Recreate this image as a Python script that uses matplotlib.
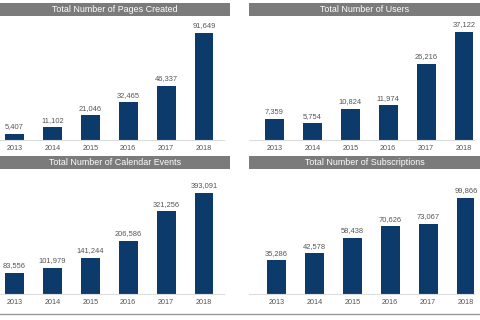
import matplotlib
matplotlib.use("Agg")
import matplotlib.pyplot as plt
from matplotlib.patches import Rectangle
from matplotlib.lines import Line2D

years = ["2013", "2014", "2015", "2016", "2017", "2018"]
pages_created = [5407, 11102, 21046, 32465, 46337, 91649]
users = [7359, 5754, 10824, 11974, 26216, 37122]
calendar_events = [83556, 101979, 141244, 206586, 321256, 393091]
subscriptions = [35286, 42578, 58438, 70626, 73067, 99866]

titles = ["Total Number of Pages Created", "Total Number of Users",
          "Total Number of Calendar Events", "Total Number of Subscriptions"]
series = [pages_created, users, calendar_events, subscriptions]

W, H = 480, 320
fig = plt.figure(figsize=(4.8, 3.2), dpi=100)
fig.patch.set_facecolor("white")

BAR = "#0c3a6b"
TITLE_BG = "#7b7b7b"
TXT = "#555555"
FONT = "Liberation Sans"

# panel layout in pixels: (title x0, x1, title y0, y1, baseline y, first center px, ymax)
panels = [
    (0, 230, 3, 16, 140, 14.5, 102800),
    (249, 480, 3, 16, 140, 274.5, 41250),
    (0, 230, 156, 169, 294, 14.5, 467000),
    (249, 480, 156, 169, 294, 276.5, 124800),
]
spacing = 37.9

def fx(px):
    return px / W

def fy(py):
    return 1 - py / H

for (x0, x1, ty0, ty1, base, c0, ymax), title, vals in zip(panels, titles, series):
    # title bar
    fig.patches.append(Rectangle((fx(x0), fy(ty1)), fx(x1 - x0), (ty1 - ty0) / H,
                                 transform=fig.transFigure, facecolor=TITLE_BG,
                                 edgecolor="none", zorder=0))
    fig.text(fx((x0 + x1) / 2), fy((ty0 + ty1) / 2), title, color="white",
             fontsize=6.4, ha="center", va="center", fontfamily=FONT,
             fontweight="normal")
    # axes
    ax = fig.add_axes([fx(x0), fy(base), fx(x1 - x0 - 6), 120 / H])
    ax.set_facecolor("none")
    xs = list(range(len(years)))
    ax.bar(xs, vals, width=0.5, color=BAR)
    ax.set_xlim(-(c0 - x0) / spacing, (x1 - 6 - c0) / spacing)
    ax.set_ylim(0, ymax)
    for x, v in zip(xs, vals):
        ax.annotate(f"{v:,}", (x, v), xytext=(0, 2.5), textcoords="offset points",
                    ha="center", va="bottom", fontsize=5.4, color=TXT,
                    fontfamily=FONT)
    ax.set_xticks(xs)
    ax.set_xticklabels(years, fontsize=5.2, color=TXT, fontfamily=FONT)
    ax.tick_params(axis="x", length=0, pad=3.5)
    ax.set_yticks([])
    for s in ["top", "right", "left"]:
        ax.spines[s].set_visible(False)
    ax.spines["bottom"].set_color("#dcdcdc")
    ax.spines["bottom"].set_linewidth(0.8)

# bottom separator line
fig.lines.append(Line2D([0, 1], [fy(314), fy(314)], transform=fig.transFigure,
                        color="#999999", linewidth=1.0))

fig.savefig("out.png", dpi=100)
